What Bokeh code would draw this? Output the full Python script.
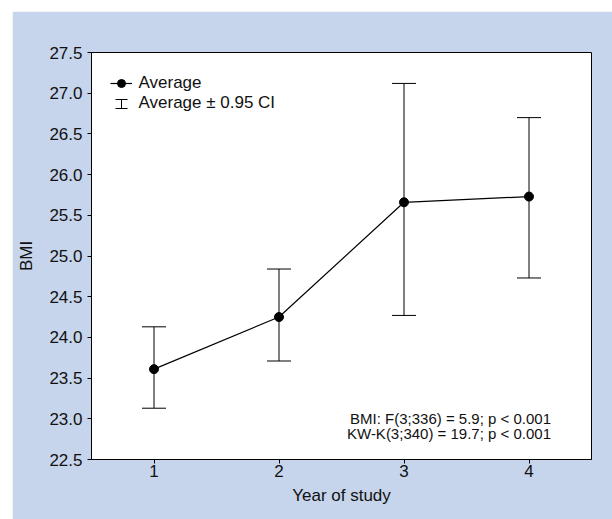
from bokeh.plotting import figure
from bokeh.models import (ColumnDataSource, Whisker, TeeHead, Legend, LegendItem,
                          FixedTicker, Label, Arrow, NumeralTickFormatter)
from bokeh.embed import file_html
from bokeh.resources import INLINE

# ---- data ----
years = [1, 2, 3, 4]
bmi_mean = [23.61, 24.25, 25.66, 25.73]
ci_lower = [23.13, 23.71, 24.27, 24.73]
ci_upper = [24.13, 24.84, 27.12, 26.70]
y_ticks = [22.5, 23.0, 23.5, 24.0, 24.5, 25.0, 25.5, 26.0, 26.5, 27.0, 27.5]
x_label = "Year of study"
y_label = "BMI"
legend_labels = ["Average", "Average \u00b1 0.95 CI"]
stats_lines = ["BMI: F(3;336) = 5.9; p < 0.001", "KW-K(3;340) = 19.7; p < 0.001"]

BG = "#c6d5ec"
FONT = "Liberation Sans"
INK = "#111111"

p = figure(width=600, height=508, x_range=(0.5, 4.5), y_range=(22.5, 27.5),
           output_backend="svg", toolbar_location=None,
           background_fill_color="white", border_fill_color=BG,
           min_border_left=79, min_border_right=21, min_border_top=41,
           min_border_bottom=60)
p.margin = (11, -8, -8, 12)
p.outline_line_color = "black"
p.outline_line_width = 1
p.grid.visible = False

p.xaxis.ticker = FixedTicker(ticks=years)
p.yaxis.ticker = FixedTicker(ticks=y_ticks)
p.yaxis.formatter = NumeralTickFormatter(format="0.0")
for ax in p.axis:
    ax.major_tick_in = 0
    ax.major_tick_out = 4
    ax.minor_tick_in = 0
    ax.minor_tick_out = 0
    ax.axis_line_color = "black"
    ax.major_tick_line_color = "black"
    ax.major_label_text_font = FONT
    ax.major_label_text_font_size = "17px"
    ax.major_label_text_color = INK
    ax.axis_label_text_font = FONT
    ax.axis_label_text_font_size = "17px"
    ax.axis_label_text_font_style = "normal"
    ax.axis_label_text_color = INK
p.xaxis.axis_label = x_label
p.yaxis.axis_label = y_label
p.xaxis.major_label_standoff = 1
p.xaxis.axis_label_standoff = 6
p.yaxis.major_label_standoff = 5
p.yaxis.axis_label_standoff = 10

src = ColumnDataSource(dict(x=years, mean=bmi_mean, lower=ci_lower, upper=ci_upper))

whisk = Whisker(base="x", lower="lower", upper="upper", source=src, dimension="height",
                line_color="black", line_width=1,
                upper_head=TeeHead(size=24, line_color="black", line_width=1),
                lower_head=TeeHead(size=24, line_color="black", line_width=1))
p.add_layout(whisk)

line_r = p.line("x", "mean", source=src, line_color="black", line_width=1.2)
dot_r = p.scatter("x", "mean", source=src, size=9, fill_color="black", line_color="black")

dummy = p.scatter(x=[], y=[], size=0, fill_alpha=0, line_alpha=0)

legend = Legend(items=[LegendItem(label=legend_labels[0], renderers=[line_r, dot_r]),
                       LegendItem(label=legend_labels[1], renderers=[dummy])],
                location=(18.5, 345.7), padding=0, spacing=0, margin=0,
                glyph_width=22, glyph_height=20, label_height=20, label_standoff=7,
                border_line_color=None, background_fill_alpha=0,
                label_text_font=FONT, label_text_font_size="17px",
                label_text_color=INK)
p.add_layout(legend)

# I-beam symbol of the CI legend entry (screen units, relative to the frame)
ibeam = Arrow(x_start=30, y_start=351, x_end=30, y_end=360,
              start_units="screen", end_units="screen",
              start=TeeHead(size=12, line_color="black", line_width=1),
              end=TeeHead(size=12, line_color="black", line_width=1),
              line_color="black", line_width=1)
p.add_layout(ibeam)

for txt, yy in zip(stats_lines, [41, 26.5]):
    p.add_layout(Label(x=459.5, y=yy, x_units="screen", y_units="screen", text=txt,
                       text_align="right", text_baseline="middle",
                       text_font=FONT, text_font_size="15px", text_color=INK))

open("out.html", "w").write(file_html(p, INLINE))
